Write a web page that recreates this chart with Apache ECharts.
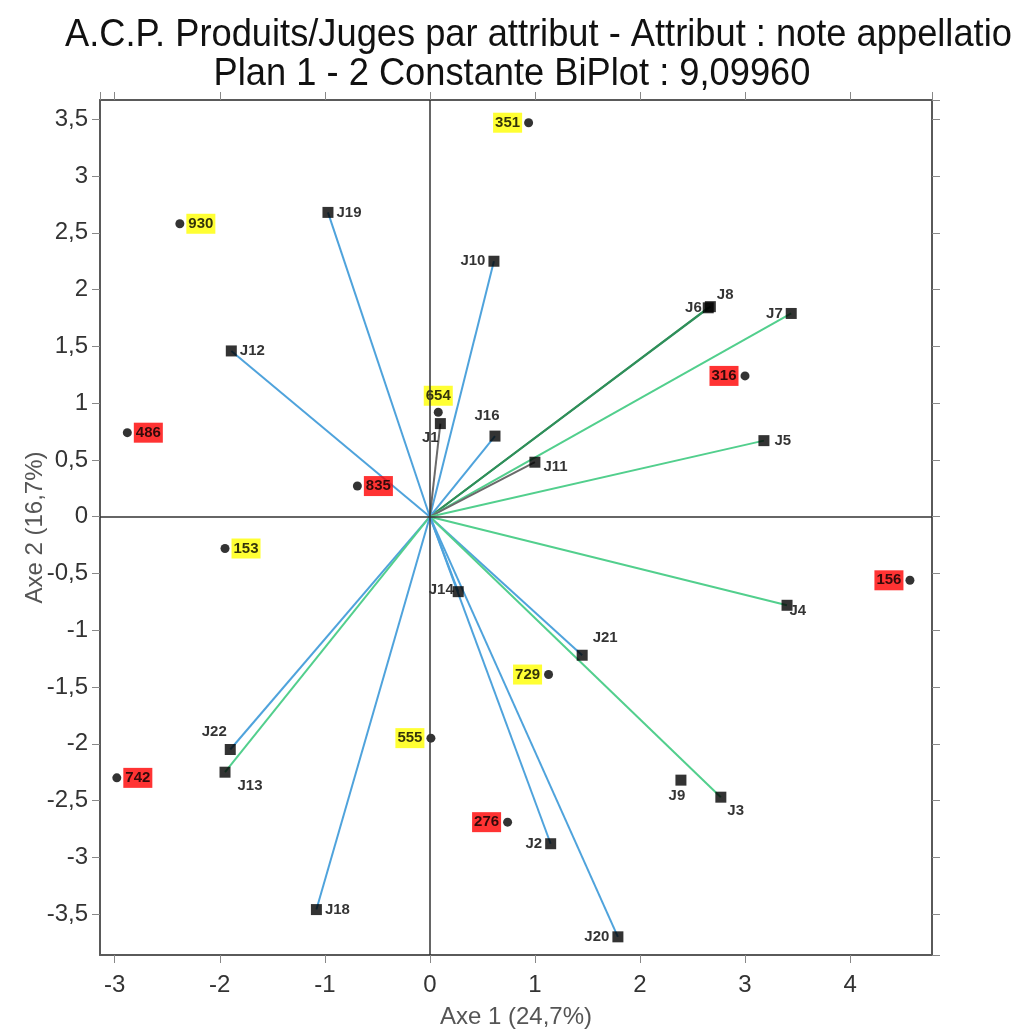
<!DOCTYPE html>
<html lang="fr">
<head>
  <meta charset="utf-8">
  <script src="https://cdn.jsdelivr.net/npm/echarts@6/dist/echarts.min.js"></script>
  <style>
    html, body { margin: 0; padding: 0; background: #fff; }
  </style>
</head>
<body>
  <div id="biplot" style="width: 1019px; height: 1034px;"></div>

  <script type="text/javascript">
    // produits (points + etiquettes surlignees)
    var productNames = ['351', '930', '654', '316', '486', '835', '153', '156', '729', '555', '742', '276'];
    var productX = [0.94, -2.38, 0.08, 3.00, -2.88, -0.69, -1.95, 4.57, 1.13, 0.01, -2.98, 0.74];
    var productY = [3.47, 2.58, 0.92, 1.24, 0.74, 0.27, -0.28, -0.56, -1.39, -1.95, -2.30, -2.69];
    var productGroup = ['jaune', 'jaune', 'jaune', 'rouge', 'rouge', 'rouge', 'jaune', 'rouge', 'jaune', 'jaune', 'rouge', 'rouge'];

    // juges (vecteurs depuis l'origine)
    var judgeNames = ['J19', 'J10', 'J6', 'J8', 'J7', 'J12', 'J1', 'J16', 'J11', 'J5', 'J14', 'J4', 'J21',
                      'J22', 'J13', 'J9', 'J3', 'J2', 'J18', 'J20'];
    var judgeX = [-0.97, 0.61, 2.65, 2.67, 3.44, -1.89, 0.10, 0.62, 1.00, 3.18, 0.27, 3.40, 1.45,
                  -1.90, -1.95, 2.39, 2.77, 1.15, -1.08, 1.79];
    var judgeY = [2.68, 2.25, 1.84, 1.85, 1.79, 1.46, 0.82, 0.71, 0.48, 0.67, -0.66, -0.78, -1.22,
                  -2.05, -2.25, -2.32, -2.47, -2.88, -3.46, -3.70];
    var judgeGroup = ['b', 'b', 'v', 'v', 'c', 'b', 'g', 'b', 'g', 'c', 'b', 'c', 'b',
                      'b', 'c', '-', 'c', 'b', 'b', 'b'];

    var titleLine1 = 'A.C.P. Produits/Juges par attribut - Attribut : note appellatio';
    var titleLine2 = 'Plan 1 - 2 Constante BiPlot : 9,09960';
    var axisName1 = 'Axe 1 (24,7%)';
    var axisName2 = 'Axe 2 (16,7%)';

    var groupColors = { jaune: '#ffff00', rouge: '#ff0000' };
    var lineColors = { b: '#4fa3dc', c: '#52cf8d', v: '#2f8f5a', g: '#6a6a6a' };

    var productLabelPos = {
      '351': 'left', '930': 'right', '654': 'top', '316': 'left', '486': 'right', '835': 'right',
      '153': 'right', '156': 'left', '729': 'left', '555': 'left', '742': 'right', '276': 'left'
    };
    var judgeLabelPos = {
      'J19': ['right', [0, 0]], 'J10': ['left', [0, 0]], 'J6': ['left', [2, 0]], 'J8': ['right', [-2, -12]],
      'J7': ['left', [0, 0]], 'J12': ['right', [0, 0]], 'J1': ['bottom', [-10, -2]], 'J16': ['top', [-8, -4]],
      'J11': ['right', [0, 5]], 'J5': ['right', [2, 0]], 'J14': ['left', [4, -2]], 'J4': ['right', [-6, 6]],
      'J21': ['right', [2, -17]], 'J22': ['top', [-16, -2]], 'J13': ['right', [4, 14]], 'J9': ['bottom', [-4, 0]],
      'J3': ['right', [-2, 14]], 'J2': ['left', [0, 0]], 'J18': ['right', [0, 0]], 'J20': ['left', [0, 0]]
    };

    function fmt(v) {
      return String(v).replace('.', ',');
    }

    function createBiplot() {
      var chart = echarts.init(document.getElementById('biplot'));
      var frame = { show: true, onZero: false, lineStyle: { color: '#5a5a5a', width: 2 } };
      var tickStyle = { show: true, inside: false, length: 8, lineStyle: { color: '#888', width: 1 } };
      var labelFont = { color: '#333', fontSize: 24, fontFamily: 'Arial, "Liberation Sans", sans-serif' };
      var titleFont = { fontSize: 39, fill: '#111', fontFamily: 'Arial, "Liberation Sans", sans-serif' };
      var nameFont = { color: '#555', fontSize: 24, fontFamily: 'Arial, "Liberation Sans", sans-serif' };

      var productData = productNames.map(function (n, i) {
        return {
          name: n,
          value: [productX[i], productY[i]],
          label: {
            position: productLabelPos[n],
            backgroundColor: groupColors[productGroup[i]]
          }
        };
      });

      var judgeData = judgeNames.map(function (n, i) {
        return {
          name: n,
          value: [judgeX[i], judgeY[i]],
          label: { position: judgeLabelPos[n][0], offset: judgeLabelPos[n][1] }
        };
      });

      var vectors = [];
      judgeNames.forEach(function (n, i) {
        if (judgeGroup[i] === '-') return;
        vectors.push({
          coords: [[0, 0], [judgeX[i], judgeY[i]]],
          lineStyle: { color: lineColors[judgeGroup[i]] }
        });
      });

      var option = {
        animation: false,
        backgroundColor: '#fff',
        graphic: [
          {
            type: 'text', x: 65, y: 35, scaleX: 0.93, scaleY: 1,
            style: Object.assign({ text: titleLine1, textAlign: 'left', textVerticalAlign: 'middle' }, titleFont)
          },
          {
            type: 'text', x: 512, y: 74, scaleX: 0.93, scaleY: 1,
            style: Object.assign({ text: titleLine2, textAlign: 'center', textVerticalAlign: 'middle' }, titleFont)
          }
        ],
        grid: { left: 100, right: 87, top: 100, bottom: 76 },
        xAxis: [
          {
            type: 'value', min: -3.14, max: 4.78, minInterval: 1, maxInterval: 1, splitNumber: 8,
            position: 'bottom',
            name: axisName1, nameLocation: 'middle', nameGap: 50, nameMoveOverlap: false,
            nameTextStyle: nameFont,
            axisLine: frame, axisTick: tickStyle,
            axisLabel: Object.assign({ margin: 18, showMinLabel: false, showMaxLabel: false, formatter: fmt }, labelFont),
            splitLine: { show: false }
          },
          {
            type: 'value', min: -3.14, max: 4.78, minInterval: 1, maxInterval: 1, splitNumber: 8,
            position: 'top',
            axisLine: frame, axisTick: tickStyle,
            axisLabel: { show: false }, splitLine: { show: false }
          }
        ],
        yAxis: [
          {
            type: 'value', min: -3.86, max: 3.67, minInterval: 0.5, maxInterval: 0.5, splitNumber: 15,
            position: 'left',
            name: axisName2, nameLocation: 'middle', nameGap: 53, nameRotate: 90, nameMoveOverlap: false,
            nameTextStyle: nameFont,
            axisLine: frame, axisTick: tickStyle,
            axisLabel: Object.assign({ margin: 12, showMinLabel: false, showMaxLabel: false, formatter: fmt }, labelFont),
            splitLine: { show: false }
          },
          {
            type: 'value', min: -3.86, max: 3.67, minInterval: 0.5, maxInterval: 0.5, splitNumber: 15,
            position: 'right',
            axisLine: frame, axisTick: tickStyle,
            axisLabel: { show: false }, splitLine: { show: false }
          }
        ],
        series: [
          {
            type: 'lines',
            coordinateSystem: 'cartesian2d',
            xAxisIndex: 0, yAxisIndex: 0,
            silent: true,
            lineStyle: { width: 2, opacity: 1 },
            data: vectors,
            markLine: {
              silent: true,
              symbol: 'none',
              label: { show: false },
              lineStyle: { color: '#333', width: 1.5, type: 'solid' },
              data: [{ xAxis: 0 }, { yAxis: 0 }]
            }
          },
          {
            type: 'scatter',
            name: 'Juges',
            symbol: 'rect',
            symbolSize: 11,
            itemStyle: { color: '#000' },
            label: {
              show: true, distance: 3,
              formatter: '{b}',
              color: '#000', fontSize: 15, fontWeight: 'bold',
              fontFamily: 'Arial, "Liberation Sans", sans-serif'
            },
            data: judgeData
          },
          {
            type: 'scatter',
            name: 'Produits',
            symbol: 'circle',
            symbolSize: 9,
            itemStyle: { color: '#000' },
            label: {
              show: true, distance: 2,
              formatter: '{b}',
              color: '#000', fontSize: 15, fontWeight: 'bold',
              padding: [3, 2, 2, 2],
              fontFamily: 'Arial, "Liberation Sans", sans-serif'
            },
            data: productData
          }
        ]
      };

      chart.setOption(option);
    }
    createBiplot();
  </script>
</body>
</html>
